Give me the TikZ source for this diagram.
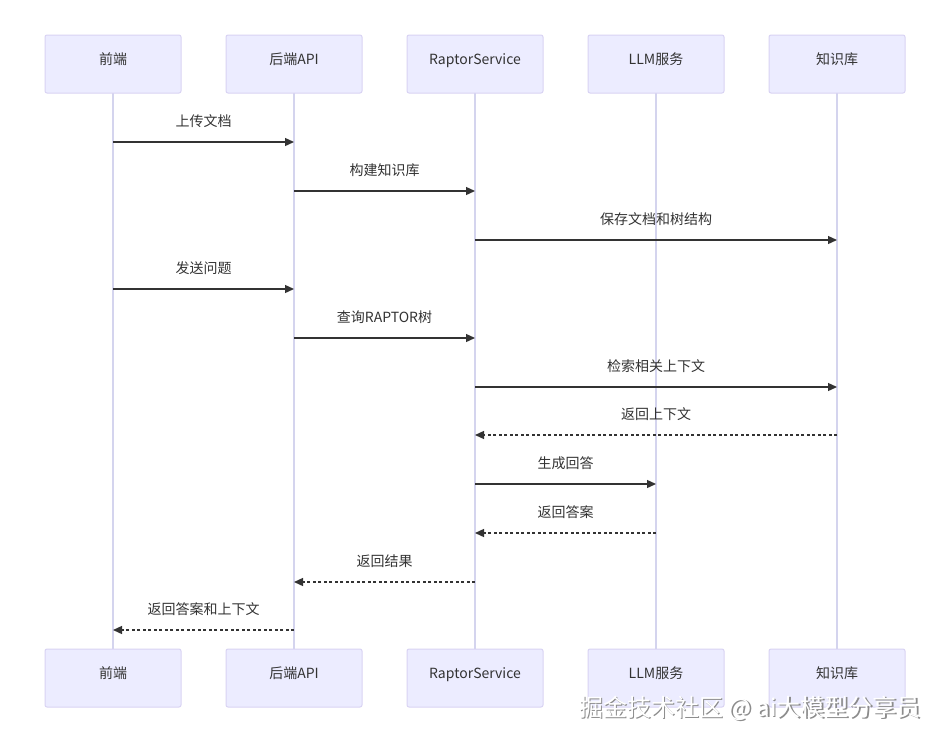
\documentclass[tikz,border=0pt]{standalone}
\usepackage{fontspec}
\setmainfont{Noto Sans CJK SC}
\usetikzlibrary{arrows.meta,positioning}
\definecolor{actorfill}{HTML}{ECECFF}
\definecolor{actorline}{HTML}{D9D3F3}
\definecolor{lifeline}{HTML}{D4D4EE}
\definecolor{ink}{HTML}{333333}

\begin{document}
\begin{tikzpicture}[
  x=1pt, y=-1pt,
  font=\fontsize{14}{16}\selectfont,
  actor/.style={draw=actorline, fill=actorfill, rounded corners=2pt, line width=1pt, minimum width=136pt, minimum height=58pt, inner sep=0pt, text height=8pt, text depth=8pt, text=ink},
  life/.style={draw=lifeline, line width=1.5pt},
  msg/.style={-{Triangle[length=9pt,width=8pt]}, draw=ink, line width=1.3pt},
  reply/.style={msg, dash pattern=on 3pt off 2.5pt},
  lbl/.style={above=14pt, text=ink, inner sep=0pt}
]
\useasboundingbox[fill=white] (0,0) rectangle (950,744);

% lifelines first, boxes on top
\coordinate (feT) at (113,64);
\coordinate (beT) at (294,64);
\coordinate (raptorT) at (475,64);
\coordinate (llmT) at (656,64);
\coordinate (kbT) at (837,64);
\draw[life] (feT) -- (feT |- 0,678) coordinate (feL);
\draw[life] (beT) -- (beT |- 0,678) coordinate (beL);
\draw[life] (raptorT) -- (raptorT |- 0,678) coordinate (raptorL);
\draw[life] (llmT) -- (llmT |- 0,678) coordinate (llmL);
\draw[life] (kbT) -- (kbT |- 0,678) coordinate (kbL);

% participants, top row
\node[actor] (fe) at (feT) {前端};
\node[actor] (be) at (beT) {后端API};
\node[actor] (raptor) at (raptorT) {RaptorService};
\node[actor] (llm) at (llmT) {LLM服务};
\node[actor] (kb) at (kbT) {知识库};

% participants, bottom row
\node[actor] (feB) at (feL) {前端};
\node[actor] (beB) at (beL) {后端API};
\node[actor] (raptorB) at (raptorL) {RaptorService};
\node[actor] (llmB) at (llmL) {LLM服务};
\node[actor] (kbB) at (kbL) {知识库};

% message levels
\coordinate (m1) at (0,142);
\coordinate (m2) at (0,191);
\coordinate (m3) at (0,240);
\coordinate (m4) at (0,289);
\coordinate (m5) at (0,338);
\coordinate (m6) at (0,387);
\coordinate (m7) at (0,435);
\coordinate (m8) at (0,484);
\coordinate (m9) at (0,533);
\coordinate (m10) at (0,582);
\coordinate (m11) at (0,630);

% messages
\draw[msg] (fe |- m1) -- node[lbl] (t1) {上传文档} (be |- m1);
\draw[msg] (be |- m2) -- node[lbl] (t2) {构建知识库} (raptor |- m2);
\draw[msg] (raptor |- m3) -- node[lbl] (t3) {保存文档和树结构} (kb |- m3);
\draw[msg] (fe |- m4) -- node[lbl] (t4) {发送问题} (be |- m4);
\draw[msg] (be |- m5) -- node[lbl] (t5) {查询RAPTOR树} (raptor |- m5);
\draw[msg] (raptor |- m6) -- node[lbl] (t6) {检索相关上下文} (kb |- m6);
\draw[reply] (kb |- m7) -- node[lbl] (t7) {返回上下文} (raptor |- m7);
\draw[msg] (raptor |- m8) -- node[lbl] (t8) {生成回答} (llm |- m8);
\draw[reply] (llm |- m9) -- node[lbl] (t9) {返回答案} (raptor |- m9);
\draw[reply] (raptor |- m10) -- node[lbl] (t10) {返回结果} (be |- m10);
\draw[reply] (be |- m11) -- node[lbl] (t11) {返回答案和上下文} (fe |- m11);

% watermark
\node[text=black!45, font=\fontsize{24}{26}\selectfont] (markS) at (751.5,709.5) {掘金技术社区 @ ai大模型分享员};
\node[text=white, font=\fontsize{24}{26}\selectfont] (mark) at (750,708) {掘金技术社区 @ ai大模型分享员};
\end{tikzpicture}
\end{document}
